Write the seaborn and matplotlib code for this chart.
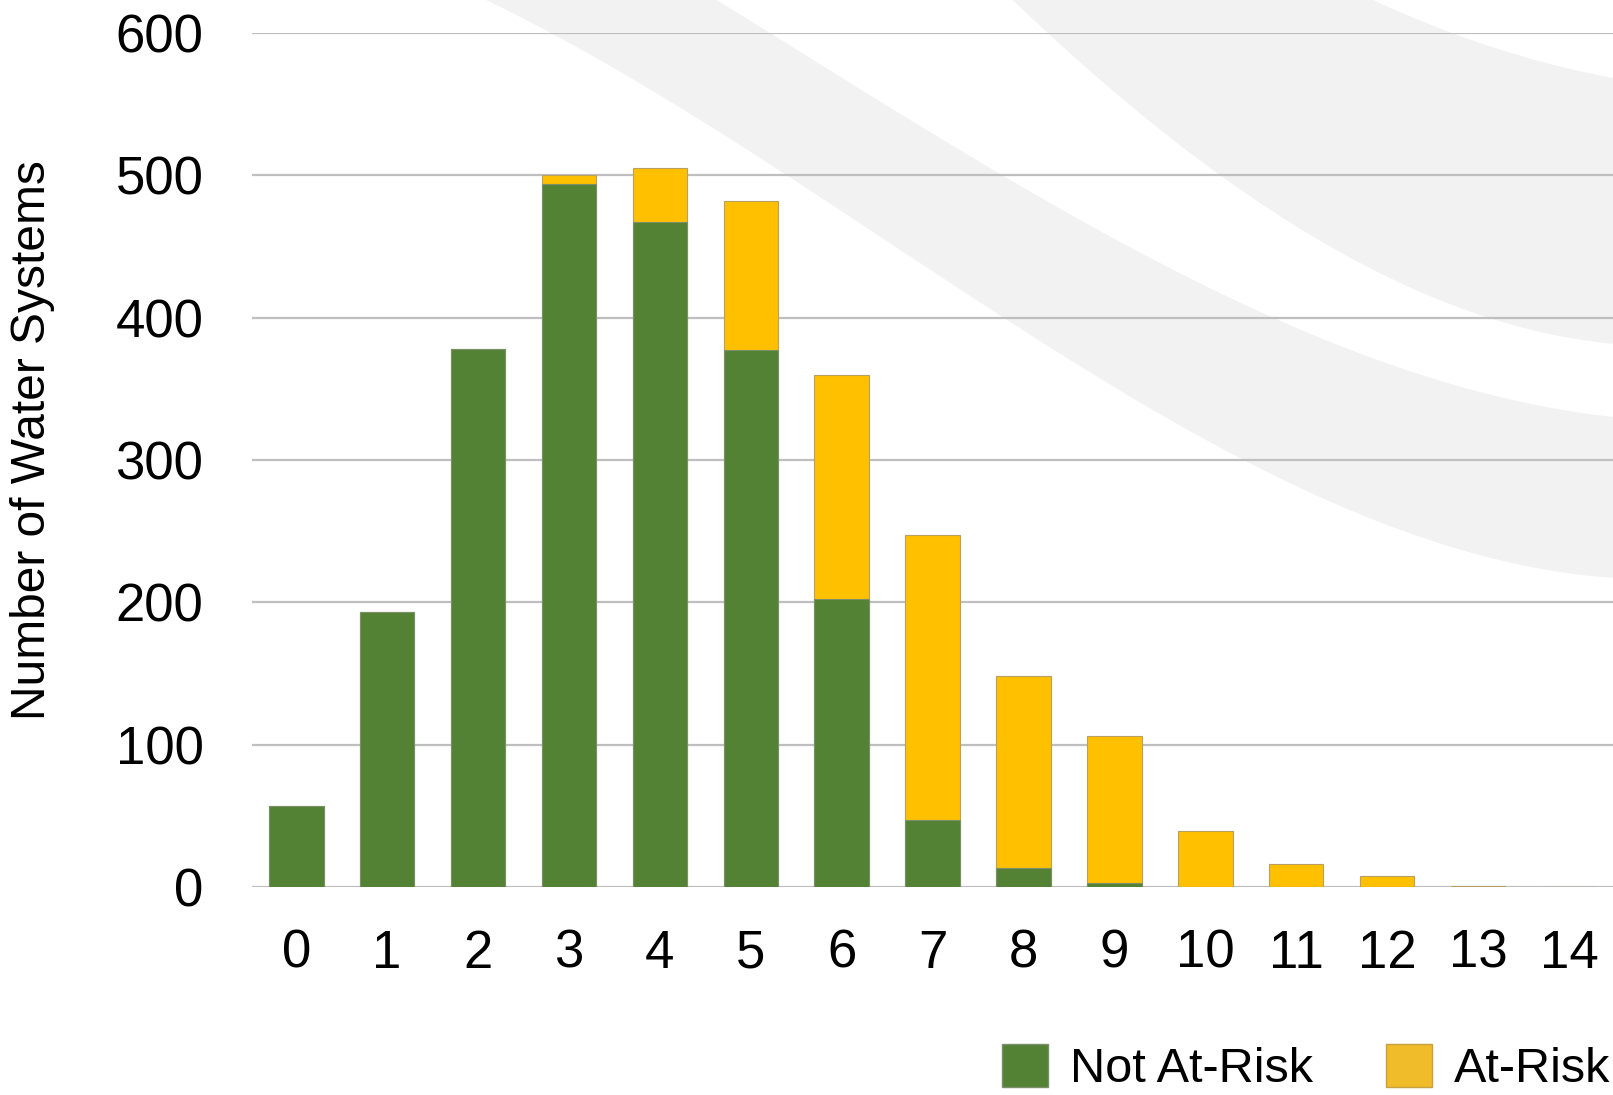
"""Stacked bar chart: water systems by risk score"""
import numpy as np
import pandas as pd
import matplotlib
matplotlib.use('Agg')
import matplotlib.pyplot as plt
import seaborn as sns
from matplotlib.patches import Patch

sns.set_theme(style='white')
plt.rcParams['font.family'] = ['Liberation Sans', 'DejaVu Sans']
plt.rcParams['text.color'] = 'black'

# data
scores = list(range(15))
not_at_risk = [57, 193, 378, 494, 467, 377, 202, 47, 13, 3, 0, 0, 0, 0, 0]
at_risk = [0, 0, 0, 6, 38, 105, 158, 200, 135, 103, 39, 16, 8, 1, 0]

green = '#548235'
yellow = '#FFC000'
legend_yellow = '#F0BC2A'
band_grey = '#F2F2F2'

df = pd.DataFrame({'score': scores, 'not_at_risk': not_at_risk, 'at_risk': at_risk})
df['total'] = df['not_at_risk'] + df['at_risk']

W, H = 1613, 1095
fig = plt.figure(figsize=(W / 100, H / 100), dpi=100)

# decorative grey swooshes behind the chart (figure pixel coords)
bg = fig.add_axes([0, 0, 1, 1], zorder=-1)
bg.set_xlim(0, W)
bg.set_ylim(H, 0)
bg.axis('off')


def curve(pts, deg=3):
    pts = np.array(pts, dtype=float)
    c = np.polyfit(pts[:, 0], pts[:, 1], min(deg, len(pts) - 1))
    xs = np.linspace(pts[0, 0], pts[-1, 0], 200)
    return xs, np.polyval(c, xs)


bands = [
    ([(483, 0), (555, 33), (787, 176), (1003, 318), (1243, 459), (1613, 578)],
     [(716, 0), (771, 33), (1003, 176), (1274, 318), (1613, 417)]),
    ([(1011, 0), (1050, 33), (1220, 176), (1491, 318), (1613, 344)],
     [(1373, 0), (1452, 33), (1613, 78)]),
]
for left, right in bands:
    lx, ly = curve(left)
    rx, ry = curve(right)
    px = np.concatenate([lx, rx[::-1]])
    py = np.concatenate([ly, ry[::-1]])
    bg.fill(px, py, color=band_grey, lw=0)

ax = fig.add_axes([252 / W, 1 - 887 / H, 1 - 252 / W, (887 - 33) / H])
ax.patch.set_alpha(0)

sns.barplot(data=df, x='score', y='total', color=yellow, saturation=1,
            width=0.6, edgecolor='#B8A060', linewidth=0.8, ax=ax)
sns.barplot(data=df, x='score', y='not_at_risk', color=green, saturation=1,
            width=0.6, edgecolor='#7A8F6A', linewidth=0.8, ax=ax)

ax.set_xlim(-0.487, 14.485)
ax.set_ylim(0, 600)
ax.set_yticks([0, 100, 200, 300, 400, 500, 600])
ax.yaxis.grid(True, color='#BFBFBF', linewidth=1.6)
ax.set_axisbelow(True)
for s in ax.spines.values():
    s.set_visible(False)
ax.tick_params(axis='y', length=0, pad=35, labelsize=38, labelcolor='black')
ax.tick_params(axis='x', length=0, pad=30, labelsize=38, labelcolor='black')
ax.set_xlabel('')
ax.set_ylabel('')

fig.text(33 / W, 1 - 440 / H, 'Number of Water Systems', rotation=90,
         ha='center', va='center', fontsize=34.5, color='black')

handles = [Patch(facecolor=green, edgecolor='#7A8F6A', label='Not At-Risk'),
           Patch(facecolor=legend_yellow, edgecolor='#C8A040', label='At-Risk')]
fig.legend(handles=handles, loc='center right', bbox_to_anchor=(1610 / W, 1 - 1068 / H),
           ncol=2, frameon=False, fontsize=35, handlelength=0.95, handleheight=1.0,
           handletextpad=0.45, columnspacing=1.5, borderpad=0, borderaxespad=0,
           labelcolor='black')

plt.savefig('out.png', dpi=100)
plt.close()
